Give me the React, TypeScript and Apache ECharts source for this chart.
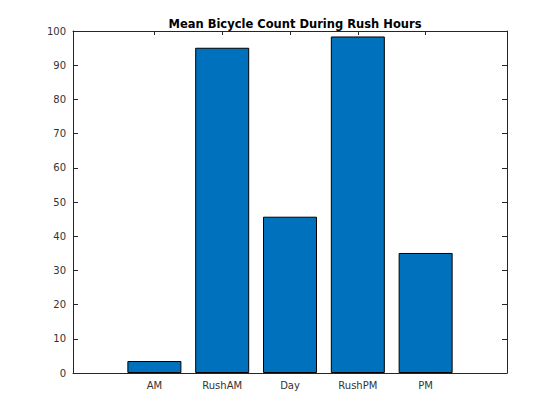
import React, { useEffect, useRef } from "react";
import * as echarts from "echarts";

const categories = ["AM", "RushAM", "Day", "RushPM", "PM"];
const positions = [1, 2, 3, 4, 5];
const meanCounts = [3.5, 95.1, 45.7, 98.4, 35.1];
const yTicks = [0, 10, 20, 30, 40, 50, 60, 70, 80, 90, 100];

const FONT = "DejaVu Sans";
const AXIS = "#262626";

export default function App() {
  const ref = useRef<HTMLDivElement>(null);
  useEffect(() => {
    if (!ref.current) return;
    const chart = echarts.init(ref.current, undefined, { renderer: "svg" });
    const xCommon = {
      type: "value" as const,
      min: -0.2,
      max: 6.2,
      splitLine: { show: false },
      axisLine: { show: true, onZero: false, lineStyle: { color: AXIS, width: 1 } },
    };
    const yCommon = {
      type: "value" as const,
      min: yTicks[0],
      max: yTicks[yTicks.length - 1],
      interval: 10,
      splitLine: { show: false },
      axisLine: { show: true, onZero: false, lineStyle: { color: AXIS, width: 1 } },
      axisTick: { show: true, inside: true, length: 5, lineStyle: { color: AXIS } },
    };
    chart.setOption({
      animation: false,
      backgroundColor: "#ffffff",
      title: {
        text: "Mean Bicycle Count During Rush Hours",
        left: 290,
        top: 13,
        textAlign: "center",
        textStyle: { fontFamily: FONT, fontSize: 11.5, fontWeight: "bold", color: "#000" },
      },
      grid: { left: 73, right: 53, top: 31, bottom: 47, containLabel: false },
      xAxis: [
        {
          ...xCommon,
          position: "bottom",
          axisTick: { show: true, inside: true, length: 4, customValues: positions, lineStyle: { color: AXIS } },
          axisLabel: {
            show: true,
            customValues: positions,
            formatter: (v: number) => categories[Math.round(v) - 1] ?? "",
            fontFamily: FONT,
            fontSize: 10,
            color: "#333333",
            margin: 7,
          },
        },
        {
          ...xCommon,
          position: "top",
          axisTick: { show: true, inside: true, length: 4, customValues: positions, lineStyle: { color: AXIS } },
          axisLabel: { show: false },
        },
      ],
      yAxis: [
        {
          ...yCommon,
          position: "left",
          axisLabel: { show: true, fontFamily: FONT, fontSize: 10, color: "#333333", margin: 7 },
        },
        {
          ...yCommon,
          position: "right",
          axisLabel: { show: false },
        },
      ],
      series: [
        {
          type: "bar",
          xAxisIndex: 0,
          yAxisIndex: 0,
          barWidth: 54,
          data: positions.map((p, i) => [p, meanCounts[i]]),
          itemStyle: { color: "#0072BD", borderColor: "#000", borderWidth: 1 },
        },
      ],
    });
    return () => chart.dispose();
  }, []);
  return (
    <div
      ref={ref}
      style={{ position: "fixed", left: 0, top: 0, width: 560, height: 420 }}
    />
  );
}
